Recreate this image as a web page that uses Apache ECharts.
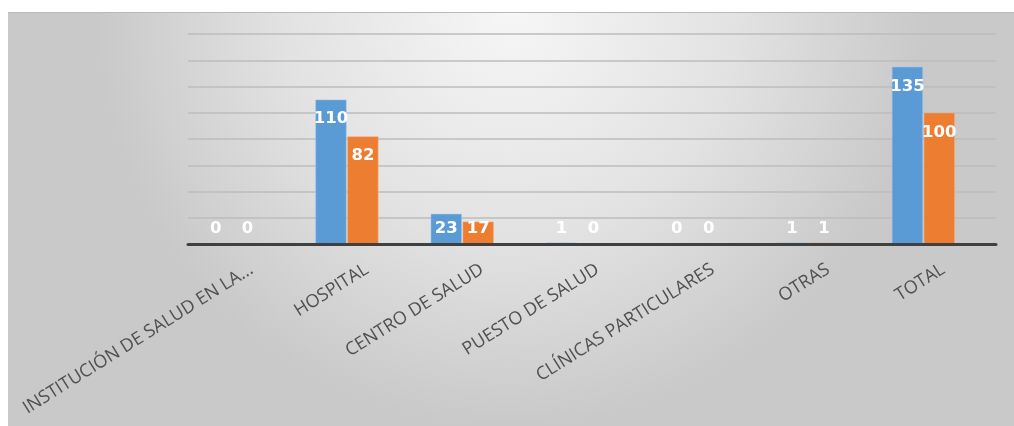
<!DOCTYPE html>
<html>
<head>
<meta charset="utf-8">
<script src="https://cdn.jsdelivr.net/npm/echarts@6/dist/echarts.min.js"></script>
<style>
  html, body { margin: 0; padding: 0; background: #fff; }
  #chart { width: 1014px; height: 426px; }
</style>
</head>
<body>
<div id="chart"></div>
<script>
// data
var categories = ['INSTITUCIÓN DE SALUD EN LA...', 'HOSPITAL', 'CENTRO DE SALUD', 'PUESTO DE SALUD', 'CLÍNICAS PARTICULARES', 'OTRAS', 'TOTAL'];
var serieA = [0, 110, 23, 1, 0, 1, 135];
var serieB = [0, 82, 17, 0, 0, 1, 100];
var yMax = 160;
var yStep = 20;

// small bars get their label above the axis, the rest inside the top (like Excel)
function withLabels(values) {
  return values.map(function (v) {
    var lab = v < 30
      ? { position: 'insideBottom', distance: 7 }
      : { position: 'insideTop', distance: 11 };
    return { value: v, label: lab };
  });
}

var chart = echarts.init(document.getElementById('chart'), null, { renderer: 'canvas' });

var barLabel = {
  show: true,
  color: '#fff',
  fontFamily: 'DejaVu Sans',
  fontWeight: 'bold',
  fontSize: 16.5
};

var option = {
  backgroundColor: '#fff',
  animation: false,
  graphic: [
    {
      type: 'rect', z: -100, silent: true,
      shape: { x: 8, y: 12, width: 1006, height: 414 },
      style: {
        fill: {
          type: 'radial', x: 0.5, y: 0, r: 1.0,
          colorStops: [
            { offset: 0, color: '#f6f6f6' },
            { offset: 0.55, color: '#e2e2e2' },
            { offset: 1, color: '#c9c9c9' }
          ]
        }
      }
    },
    {
      type: 'line', z: -99, silent: true,
      shape: { x1: 8, y1: 12.5, x2: 1014, y2: 12.5 },
      style: { stroke: '#b9b9b9', lineWidth: 1 }
    }
  ],
  grid: [
    { left: 174, right: 33, top: 34, bottom: 182 },   // bars
    { left: 188, right: 18, top: 34, bottom: 182 },   // gridlines + axis line
    { left: 194, right: 13, top: 34, bottom: 182 }    // category labels, nudged right
  ],
  xAxis: [
    {
      type: 'category', gridIndex: 0, data: categories,
      axisLine: { show: false },
      axisTick: { show: false },
      axisLabel: { show: false }
    },
    {
      type: 'category', gridIndex: 1, data: [''], z: 5,
      axisLine: { show: true, lineStyle: { color: '#404040', width: 3 } },
      axisTick: { show: false },
      axisLabel: { show: false }
    },
    {
      type: 'category', gridIndex: 2, data: categories,
      axisLine: { show: false },
      axisTick: { show: false },
      axisLabel: {
        interval: 0, rotate: 32, margin: 24,
        color: '#505050', fontFamily: 'Open Sans', fontSize: 18
      }
    }
  ],
  yAxis: [
    {
      type: 'value', gridIndex: 0, min: 0, max: yMax, interval: yStep,
      show: false
    },
    {
      type: 'value', gridIndex: 1, min: 0, max: yMax, interval: yStep,
      axisLine: { show: false },
      axisTick: { show: false },
      axisLabel: { show: false },
      splitLine: { lineStyle: { color: '#bdbdbd', width: 1.5 } }
    },
    {
      type: 'value', gridIndex: 2, min: 0, max: yMax, interval: yStep,
      show: false
    }
  ],
  series: [
    {
      name: 'A', type: 'bar', xAxisIndex: 0, yAxisIndex: 0,
      barWidth: 31, barGap: '3%',
      itemStyle: { color: '#5b9bd5', borderColor: '#9cc3e8', borderWidth: 0.5 },
      label: barLabel,
      data: withLabels(serieA)
    },
    {
      name: 'B', type: 'bar', xAxisIndex: 0, yAxisIndex: 0,
      barWidth: 31, barGap: '3%',
      itemStyle: { color: '#ed7d31', borderColor: '#f4b183', borderWidth: 0.5 },
      label: barLabel,
      data: withLabels(serieB)
    }
  ]
};

chart.setOption(option);
</script>
</body>
</html>
